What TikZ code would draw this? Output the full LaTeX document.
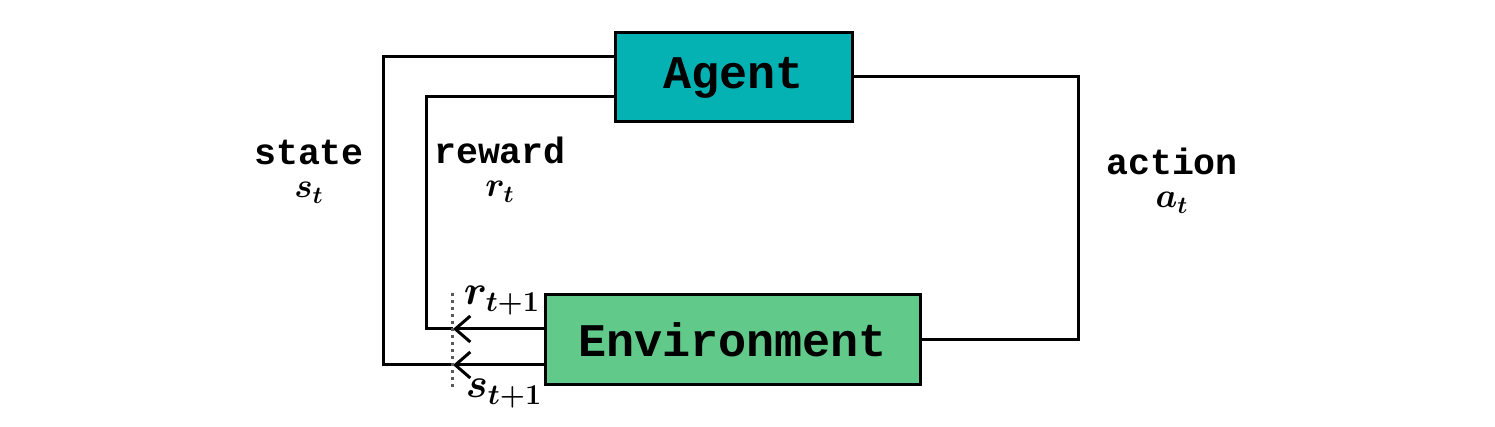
\documentclass[tikz,border=0pt]{standalone}
\usepackage{fontspec}
\setmonofont{Liberation Mono}
\usetikzlibrary{arrows.meta}
\definecolor{agentcol}{HTML}{05B2B3}
\definecolor{envcol}{HTML}{61C98A}
\begin{document}
\begin{tikzpicture}[x=0.5pt,y=-0.5pt,
  box/.style={draw=black,line width=1.5pt,inner sep=0pt,font=\fontsize{23.4}{28}\selectfont\ttfamily\bfseries},
  wire/.style={draw=black,line width=1.5pt},
  tip/.style={-{Straight Barb[length=7.5pt,width=13pt]}},
  lbl/.style={font=\fontsize{18.3}{16.5}\selectfont\ttfamily\bfseries\boldmath,align=center,anchor=base,inner sep=0pt},
  mlbl/.style={font=\fontsize{20}{20}\selectfont\boldmath,anchor=base,inner sep=0pt}]
\useasboundingbox[fill=white] (0,0) rectangle (1495,427);
\node[box,fill=agentcol,minimum width=118.5pt,minimum height=44.5pt] (agent) at (733.5,77.5) {Agent};
\node[box,fill=envcol,minimum width=187.5pt,minimum height=45pt] (env) at (732.5,340) {Environment};
\coordinate (sTop) at (383,57);
\coordinate (sBot) at (383,365);
\coordinate (rTop) at (426,97);
\coordinate (rBot) at (426,329);
\coordinate (aTop) at (1078,77);
\coordinate (aBot) at (1078,340);
\coordinate (cut) at (453,0);
\coordinate (dotT) at (452,293);
\coordinate (dotB) at (452,388);
% state loop
\draw[wire,tip] (env.west |- sBot) -- (cut |- sBot);
\draw[wire] (cut |- sBot) -- (sBot) -- (sTop) -- (agent.west |- sTop);
% reward loop
\draw[wire,tip] (env.west |- rBot) -- (cut |- rBot);
\draw[wire] (cut |- rBot) -- (rBot) -- (rTop) -- (agent.west |- rTop);
% action loop
\draw[wire] (agent.east |- aTop) -- (aTop) -- (aBot) -- (env.east |- aBot);
% dotted cut
\draw[line width=1.5pt,dotted,color=black!65] (dotT) -- (dotB);
% labels
\node[lbl] (lstate) at (309,198) {state\\$s_t$};
\node[lbl] (lreward) at (500,197) {reward\\$r_t$};
\node[lbl] (laction) at (1172,208) {action\\$a_t$};
\node[mlbl] (lr1) at (502,305) {$r_{t+1}$};
\node[mlbl] (ls1) at (504,398) {$s_{t+1}$};
\end{tikzpicture}
\end{document}
